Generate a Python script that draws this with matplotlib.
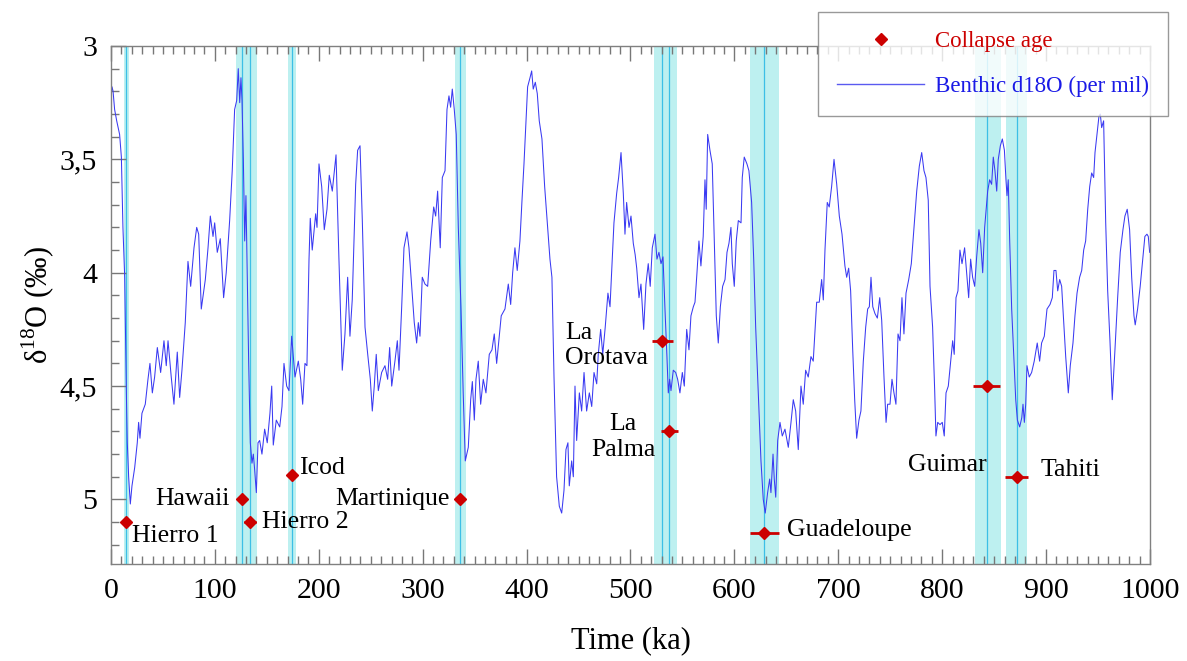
import numpy as np
import matplotlib
matplotlib.use('Agg')
import matplotlib.pyplot as plt
from matplotlib.lines import Line2D
from matplotlib.ticker import MultipleLocator, FuncFormatter

# benthic d18O stack (ka, per mil)
age_ka = [0, 1.0, 2.0, 3.5, 5.5, 8.3, 10, 11.5, 13.2, 14.8, 15.7, 17, 18.6, 20.2, 22.8, 25.3, 26.6, 27.9, 29.8, 33,
          35.6, 37.5, 39.8, 42, 44.6, 47.8, 51, 53.2, 54.9, 58, 60.6, 63.8, 66.1, 68.3, 71.5, 74.1, 76.7, 79.9, 82.5, 84.4,
          86.9, 90.8, 93.4, 95.6, 98.2, 99.8, 102.3, 105.2, 108.4, 110.9, 114.2, 116.7, 119, 121, 122.5, 123.9, 125.1, 126.1, 127.4, 128.7,
          129.9, 131.2, 132.5, 134.1, 135.7, 137, 138.3, 139.9, 141.5, 143.1, 145.3, 147.9, 150.4, 153, 154.7, 156.2, 159.1, 162.4, 164.6, 166.5,
          169.1, 171.3, 173.9, 177.1, 180.3, 182.6, 184.5, 186.7, 188.6, 190.6, 191.8, 193.7, 197, 198.3, 200.2, 202.8, 205.3, 207.9, 210.1, 213,
          216.6, 219.4, 222.6, 225.2, 227.8, 230, 232.2, 235.5, 237.4, 239.7, 241.9, 244.5, 247.1, 249.6, 251.5, 253.4, 255.3, 257.3, 260.5, 263.7,
          266.3, 268.2, 270.2, 273.3, 275.6, 277.2, 279.8, 282, 284.9, 286.8, 289.4, 291.9, 294.2, 295.8, 297.4, 299.6, 302.2, 304.8, 307.7, 310.6,
          312.5, 314.4, 316.9, 318.9, 321.5, 323.4, 325.3, 326.9, 328.5, 330.4, 332.3, 334.3, 336.9, 339, 341, 343.9, 346.2, 347.8, 349.7, 351.3,
          353.5, 355.8, 358.3, 360.9, 364.1, 366.7, 368.9, 371.2, 373.7, 375.6, 379.2, 382.4, 384.7, 386.6, 388.8, 391, 393.6, 395.6, 397.5, 399.4,
          401, 403.3, 404.9, 406.4, 408.4, 410.3, 412.2, 414.8, 417.4, 419.9, 422.5, 424.4, 426.4, 428.9, 431.5, 433.8, 436, 437.9, 439.8, 441.1,
          443.4, 445, 446.6, 448.2, 450.8, 453, 455.3, 457.8, 460.4, 462.7, 464.9, 467.5, 469, 471.3, 473.3, 475.7, 478.3, 480.3, 482.2, 484.1,
          486.7, 488.6, 490.9, 493.1, 494.7, 496.3, 498.6, 500.5, 502.7, 504.5, 506, 508.2, 510.1, 512.7, 514.9, 517.1, 519, 521, 523.6, 525.5,
          527.4, 529.4, 531.3, 533.2, 535.1, 536.4, 537.7, 539, 541.2, 543.5, 545.4, 547.6, 549.9, 551.8, 554.1, 556.3, 558.2, 560.5, 562.1, 564,
          565.9, 567.8, 570, 571.7, 572.9, 574.3, 576.5, 578.7, 580.7, 582.6, 584.5, 586.5, 588.7, 591, 592.9, 594.8, 596.7, 598, 599.9, 601.8,
          603.8, 606.4, 607.6, 609.5, 612.1, 614, 616.6, 618.6, 620.5, 623, 625.6, 627.8, 629.7, 632, 634, 635.2, 637.2, 638.4, 639.8, 641.7,
          643.9, 646.1, 648.7, 651.9, 654.5, 656.7, 659, 661.5, 664.1, 666.3, 668.6, 671.1, 673.7, 675.9, 679.2, 681.7, 684, 685.6, 687.2, 689.4,
          691.3, 693.6, 695.9, 698.5, 701, 703.6, 706.4, 708.1, 710, 711.9, 713.9, 715.8, 717.7, 719.9, 721.8, 724.1, 726.4, 728.3, 729.9, 731.5,
          733.2, 735.3, 737.6, 739.9, 741.8, 744, 746, 747.5, 749.8, 751.7, 753.6, 755.5, 757.5, 759.4, 761.3, 763.2, 765.2, 767.8, 770.3, 772.9,
          775.5, 778, 780.3, 782.5, 784.4, 786.6, 788.3, 790.8, 792.8, 794, 795.7, 797.9, 800.1, 802, 803.7, 805.9, 808.2, 810.1, 811.6, 813.3,
          815.2, 817.1, 819.1, 821.6, 823.6, 825.5, 827.4, 829.3, 831.3, 833.2, 835.4, 837.1, 839, 840.9, 843.8, 845.7, 847.6, 849.2, 850.8, 852.5,
          854, 856, 857.9, 859.9, 861.4, 862.4, 863.6, 865, 866.9, 868.9, 870.8, 872.4, 874.6, 876.6, 877.8, 879.1, 880.4, 881.6, 883.8, 886.1,
          888.6, 891.5, 893.8, 895.7, 898.3, 900.9, 903.8, 906, 907.6, 909.5, 911.2, 913.1, 915, 917, 918.9, 921.4, 923.3, 925.9, 927.8, 929.8,
          932.3, 934.3, 936.2, 938.1, 940.1, 942, 943.9, 945.8, 947.1, 949, 950.9, 952.2, 953.5, 955.4, 957.4, 959.3, 961.5, 963.7, 966.3, 968.9,
          971.4, 974, 975.9, 978.1, 980.4, 982.4, 984.6, 985.8, 988.1, 990.6, 993.2, 995.1, 997.1, 998.4, 999.7]
d18o = [3.22, 3.18, 3.20, 3.28, 3.33, 3.39, 3.49, 3.80, 4.02, 4.53, 4.75, 4.90, 5.02, 4.94, 4.86, 4.75, 4.66, 4.73, 4.62, 4.58,
        4.47, 4.40, 4.53, 4.46, 4.33, 4.44, 4.30, 4.41, 4.30, 4.46, 4.58, 4.35, 4.55, 4.43, 4.22, 3.95, 4.06, 3.89, 3.80, 3.83,
        4.16, 4.03, 3.89, 3.75, 3.84, 3.78, 3.91, 3.85, 4.11, 4.00, 3.77, 3.55, 3.28, 3.24, 3.10, 3.25, 3.14, 3.24, 3.50, 3.86,
        3.66, 4.02, 4.39, 4.75, 4.84, 4.80, 4.87, 4.97, 4.75, 4.74, 4.80, 4.69, 4.75, 4.62, 4.50, 4.76, 4.65, 4.68, 4.59, 4.40,
        4.50, 4.52, 4.28, 4.46, 4.39, 4.47, 4.58, 4.40, 4.41, 3.94, 3.76, 3.90, 3.74, 3.80, 3.52, 3.62, 3.81, 3.72, 3.57, 3.64,
        3.48, 3.94, 4.43, 4.27, 4.02, 4.28, 4.12, 3.61, 3.46, 3.44, 3.77, 4.24, 4.36, 4.47, 4.61, 4.50, 4.36, 4.52, 4.44, 4.41,
        4.47, 4.33, 4.50, 4.39, 4.30, 4.43, 4.15, 3.89, 3.82, 3.89, 4.06, 4.22, 4.31, 4.22, 4.28, 4.02, 4.05, 4.06, 3.86, 3.71,
        3.75, 3.64, 3.89, 3.58, 3.55, 3.28, 3.22, 3.27, 3.19, 3.28, 3.39, 3.80, 4.16, 4.53, 4.83, 4.77, 4.56, 4.48, 4.65, 4.47,
        4.39, 4.58, 4.47, 4.53, 4.36, 4.34, 4.27, 4.40, 4.28, 4.19, 4.16, 4.05, 4.14, 4.00, 3.89, 3.99, 3.86, 3.68, 3.52, 3.33,
        3.18, 3.14, 3.11, 3.19, 3.16, 3.21, 3.33, 3.41, 3.62, 3.78, 3.94, 4.02, 4.46, 4.90, 5.03, 5.06, 4.96, 4.78, 4.75, 4.94,
        4.83, 4.90, 4.50, 4.74, 4.53, 4.61, 4.44, 4.61, 4.53, 4.59, 4.44, 4.49, 4.36, 4.25, 4.36, 4.24, 4.09, 4.15, 3.96, 3.78,
        3.65, 3.58, 3.47, 3.65, 3.83, 3.69, 3.80, 3.75, 3.87, 3.92, 3.98, 4.11, 4.05, 4.25, 4.05, 3.96, 4.06, 3.89, 3.83, 3.94,
        3.91, 3.96, 3.93, 4.16, 4.37, 4.53, 4.47, 4.52, 4.43, 4.44, 4.47, 4.53, 4.44, 4.50, 4.25, 4.34, 4.19, 4.15, 4.13, 4.00,
        3.86, 3.97, 3.84, 3.59, 3.72, 3.39, 3.46, 3.52, 3.86, 4.19, 4.31, 4.15, 4.06, 4.03, 3.91, 3.87, 3.80, 3.96, 4.06, 3.86,
        3.77, 3.78, 3.58, 3.49, 3.52, 3.55, 3.69, 3.94, 4.24, 4.53, 4.83, 5.00, 5.06, 4.97, 4.91, 4.97, 4.80, 4.91, 4.99, 4.74,
        4.66, 4.72, 4.69, 4.77, 4.66, 4.56, 4.61, 4.78, 4.50, 4.58, 4.43, 4.46, 4.37, 4.39, 4.13, 4.13, 4.03, 4.12, 3.90, 3.69,
        3.71, 3.62, 3.50, 3.61, 3.75, 3.83, 3.97, 4.02, 3.98, 4.08, 4.34, 4.56, 4.73, 4.65, 4.61, 4.39, 4.24, 4.16, 4.15, 4.02,
        4.15, 4.18, 4.20, 4.11, 4.21, 4.46, 4.66, 4.58, 4.58, 4.47, 4.53, 4.58, 4.27, 4.30, 4.11, 4.27, 4.09, 4.03, 3.96, 3.80,
        3.64, 3.53, 3.47, 3.55, 3.58, 3.68, 4.06, 4.24, 4.52, 4.72, 4.66, 4.67, 4.66, 4.72, 4.53, 4.50, 4.39, 4.30, 4.36, 4.11,
        4.08, 3.90, 3.96, 3.89, 4.00, 4.11, 3.94, 4.02, 4.06, 3.93, 3.81, 3.87, 4.00, 3.80, 3.64, 3.59, 3.61, 3.49, 3.55, 3.64,
        3.50, 3.44, 3.41, 3.46, 3.59, 3.66, 3.59, 3.86, 4.16, 4.37, 4.56, 4.65, 4.68, 4.64, 4.58, 4.66, 4.58, 4.41, 4.46, 4.44,
        4.39, 4.31, 4.39, 4.31, 4.28, 4.16, 4.14, 4.11, 3.99, 3.99, 4.08, 4.03, 4.06, 4.22, 4.37, 4.53, 4.41, 4.31, 4.19, 4.09,
        4.02, 3.99, 3.90, 3.86, 3.72, 3.62, 3.56, 3.58, 3.47, 3.39, 3.31, 3.30, 3.36, 3.33, 3.78, 4.08, 4.30, 4.56, 4.34, 4.11,
        3.91, 3.81, 3.75, 3.72, 3.81, 4.02, 4.19, 4.23, 4.16, 4.06, 3.93, 3.84, 3.83, 3.84, 3.91]

# flank collapse events
collapse_names = ['Hierro 1', 'Hawaii', 'Hierro 2', 'Icod', 'Martinique',
                  'La\nOrotava', 'La\nPalma', 'Guadeloupe', 'Guimar', 'Tahiti']
collapse_age = [14.4, 126.4, 133.8, 174.5, 336, 530.6, 537.5, 628.8, 842.8, 871.7]
collapse_d18o = [5.1, 5.0, 5.1, 4.89, 5.0, 4.3, 4.7, 5.15, 4.5, 4.9]
collapse_err = [0, 0, 5.5, 0, 0, 10, 8.5, 14, 13, 11]

# shaded age windows and the ages drawn inside them
band_start = [12.8, 120.3, 170.4, 331, 522.6, 615, 831.6, 861.4]
band_end = [17.0, 140.5, 178, 341.4, 544.8, 643, 856.3, 881.6]
band_lines = [14.4, 126.4, 133.5, 174.5, 336, 530.6, 537.5, 628.8, 842.8, 871.7]

# where each name sits (ka, d18O, alignment)
label_pos = [(19.8, 5.16, 'left'), (114.5, 5.0, 'right'), (145, 5.10, 'left'), (181, 4.86, 'left'),
             (326, 5.0, 'right'), (437, 4.32, 'left'), (492.8, 4.725, 'center'), (650.6, 5.135, 'left'),
             (843, 4.85, 'right'), (894.8, 4.87, 'left')]

plt.rcParams['font.family'] = ['Liberation Serif', 'DejaVu Serif']
plt.rcParams['mathtext.fontset'] = 'custom'
plt.rcParams['mathtext.rm'] = 'Liberation Serif'

fig = plt.figure(figsize=(11.87, 6.61), dpi=100)
ax = fig.add_axes([0.0935, 0.1463, 0.8753, 0.7841])

for lo, hi in zip(band_start, band_end):
    ax.axvspan(lo, hi, color='#bdf0f0', lw=0, zorder=0)
for x in band_lines:
    ax.axvline(x, color='#3cbfe6', lw=0.9, zorder=1)

ax.plot(age_ka, d18o, color='#3a3af2', lw=0.75, zorder=2)

ax.errorbar(collapse_age, collapse_d18o, xerr=collapse_err, fmt='D', color='#cc0000',
            ms=6.5, elinewidth=2, capsize=0, zorder=4)

for name, (lx, ly, ha) in zip(collapse_names, label_pos):
    ax.text(lx, ly, name, ha=ha, va='center', fontsize=18.5, linespacing=1.2, zorder=5)

ax.set_xlim(0, 1000)
ax.set_ylim(5.286, 3)
ax.xaxis.set_major_locator(MultipleLocator(100))
ax.xaxis.set_minor_locator(MultipleLocator(10))
ax.yaxis.set_major_locator(MultipleLocator(0.5))
ax.yaxis.set_minor_locator(MultipleLocator(0.1))
ax.yaxis.set_major_formatter(FuncFormatter(lambda v, p: f'{v:g}'.replace('.', ',')))

ax.tick_params(which='both', direction='in', top=True, right=False, color='#777777', width=1)
ax.tick_params(which='major', length=11, labelsize=21.5, pad=10)
ax.tick_params(which='minor', length=5.5)
for s in ax.spines.values():
    s.set_color('#808080')
    s.set_linewidth(1)

ax.set_xlabel('Time (ka)', fontsize=22, labelpad=16)
ax.set_ylabel('δ$^{18}$O (‰)', fontsize=22, labelpad=2)

handles = [Line2D([], [], marker='D', color='#cc0000', ls='none', ms=6),
           Line2D([], [], color='#5a5af0', lw=1)]
leg = fig.legend(handles, ['Collapse age', 'Benthic d18O (per mil)'], loc='upper right',
                 bbox_to_anchor=(0.984, 0.982), frameon=True, fancybox=False, edgecolor='#808080',
                 fontsize=16.5, handlelength=3.8, handletextpad=0.45, labelspacing=1.0,
                 borderpad=0.85, borderaxespad=0)
leg.get_frame().set_linewidth(1)
for t, c in zip(leg.get_texts(), ['#cc0000', '#1a1ae6']):
    t.set_color(c)

fig.savefig('out.png', dpi=100)
